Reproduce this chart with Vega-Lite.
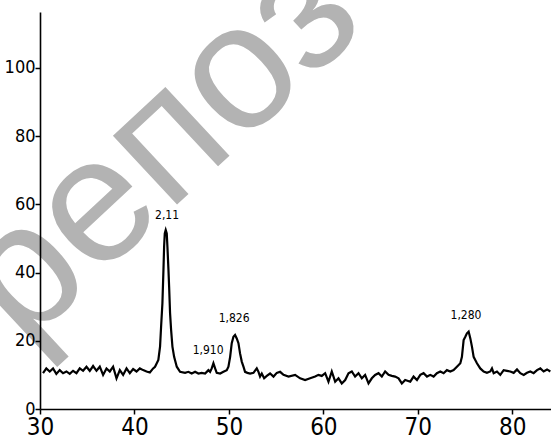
{
"$schema": "https://vega.github.io/schema/vega-lite/v6.json",
"width": 511,
"height": 397,
"autosize": {"type": "none"},
"padding": {"left": 40, "top": 12, "right": 0, "bottom": 39},
"background": "white",
"config": {"view": {"stroke": null}, "font": "DejaVu Sans Condensed, Liberation Sans"},
"datasets": {
"wm": [{"x": 42.7, "y": 76.5, "t": "репоз"}],
"labels": [
{"x": 43.45, "y": 56.9, "t": "2,11"},
{"x": 47.8, "y": 17.3, "t": "1,910"},
{"x": 50.55, "y": 26.7, "t": "1,826"},
{"x": 75.1, "y": 27.6, "t": "1,280"}
],
"curve": [
{"x":30.32,"y":10.5},{"x":30.67,"y":11.9},{"x":31.03,"y":11.0},{"x":31.38,"y":11.9},{"x":31.73,"y":10.3},{"x":32.09,"y":11.4},{"x":32.44,"y":10.5},{"x":32.80,"y":11.0},{"x":33.15,"y":10.3},{"x":33.50,"y":11.2},{"x":33.86,"y":10.5},{"x":34.21,"y":11.9},{"x":34.56,"y":11.2},{"x":34.92,"y":12.4},{"x":35.27,"y":11.2},{"x":35.62,"y":12.6},{"x":35.98,"y":11.2},{"x":36.33,"y":12.4},{"x":36.68,"y":10.0},{"x":37.04,"y":11.9},{"x":37.39,"y":11.0},{"x":37.74,"y":12.4},{"x":38.10,"y":9.0},{"x":38.45,"y":11.4},{"x":38.80,"y":10.0},{"x":39.16,"y":11.9},{"x":39.51,"y":10.5},{"x":39.86,"y":11.7},{"x":40.22,"y":11.0},{"x":40.57,"y":11.9},{"x":40.92,"y":11.4},{"x":41.28,"y":11.0},{"x":41.63,"y":10.7},{"x":41.98,"y":11.9},
{"x":42.18,"y":12.4},{"x":42.53,"y":14.4},{"x":42.71,"y":18.3},{"x":42.82,"y":24.1},{"x":42.96,"y":31.0},{"x":43.07,"y":40.8},{"x":43.14,"y":47.6},{"x":43.21,"y":51.5},{"x":43.31,"y":52.5},{"x":43.42,"y":51.5},{"x":43.49,"y":47.6},{"x":43.6,"y":40.8},{"x":43.67,"y":35.9},{"x":43.77,"y":28.1},{"x":43.88,"y":23.2},{"x":44.02,"y":18.3},{"x":44.2,"y":15.3},{"x":44.48,"y":12.4},{"x":44.83,"y":10.9},
{"x":45.36,"y":10.6},{"x":45.71,"y":10.9},{"x":46.06,"y":10.4},{"x":46.42,"y":10.9},{"x":46.77,"y":10.4},{"x":47.12,"y":10.6},{"x":47.48,"y":10.4},{"x":47.83,"y":11.4},{"x":48.01,"y":10.9},{"x":48.18,"y":11.9},{"x":48.36,"y":13.4},{"x":48.54,"y":11.9},{"x":48.71,"y":10.6},{"x":49.07,"y":10.4},{"x":49.42,"y":10.9},{"x":49.77,"y":11.4},{"x":49.95,"y":12.4},{"x":50.13,"y":15.3},{"x":50.30,"y":19.3},{"x":50.48,"y":21.2},{"x":50.65,"y":21.7},{"x":50.83,"y":20.7},{"x":51.01,"y":19.3},{"x":51.18,"y":16.3},{"x":51.36,"y":13.9},{"x":51.54,"y":12.4},{"x":51.71,"y":10.9},{"x":51.96,"y":10.6},{"x":52.24,"y":10.4},{"x":52.6,"y":10.6},{"x":52.95,"y":11.9},{"x":53.13,"y":10.9},{"x":53.30,"y":9.5},{"x":53.48,"y":10.4},{"x":53.73,"y":9.0},{"x":54.01,"y":9.7},{"x":54.36,"y":10.4},{"x":54.72,"y":9.5},{"x":55.07,"y":10.6},{"x":55.42,"y":10.9},{"x":55.78,"y":10.0},{"x":56.31,"y":9.5},
{"x":57.01,"y":10.0},{"x":57.54,"y":9.0},{"x":58.07,"y":8.5},{"x":58.6,"y":9.0},{"x":59.13,"y":9.5},{"x":59.48,"y":10.0},{"x":59.83,"y":9.7},{"x":60.19,"y":10.5},{"x":60.54,"y":8.0},{"x":60.89,"y":11.0},{"x":61.25,"y":8.0},{"x":61.6,"y":9.0},{"x":61.95,"y":7.5},{"x":62.31,"y":8.5},{"x":62.66,"y":10.5},{"x":63.01,"y":11.0},{"x":63.36,"y":9.5},{"x":63.72,"y":10.5},{"x":64.07,"y":9.0},{"x":64.42,"y":10.0},{"x":64.78,"y":7.5},{"x":65.13,"y":9.0},{"x":65.48,"y":10.0},{"x":65.84,"y":10.5},{"x":66.19,"y":9.5},{"x":66.54,"y":11.0},{"x":66.9,"y":10.0},{"x":67.25,"y":9.7},{"x":67.6,"y":9.5},{"x":67.96,"y":9.0},{"x":68.31,"y":7.5},{"x":68.66,"y":8.5},
{"x":69.2,"y":8.0},{"x":69.55,"y":9.5},{"x":69.91,"y":8.5},{"x":70.26,"y":10.0},{"x":70.61,"y":10.5},{"x":70.97,"y":9.5},{"x":71.32,"y":10.0},{"x":71.67,"y":9.5},{"x":72.02,"y":10.5},{"x":72.38,"y":11.0},{"x":72.73,"y":10.5},{"x":73.08,"y":11.4},{"x":73.44,"y":11.0},{"x":73.79,"y":11.4},{"x":74.14,"y":12.4},{"x":74.5,"y":13.4},{"x":74.67,"y":15.3},{"x":74.85,"y":20.2},{"x":75.03,"y":21.2},{"x":75.2,"y":22.2},{"x":75.38,"y":22.7},{"x":75.56,"y":20.7},{"x":75.73,"y":18.3},{"x":75.91,"y":15.3},{"x":76.08,"y":14.4},{"x":76.26,"y":13.4},{"x":76.61,"y":11.9},{"x":76.97,"y":11.0},{"x":77.32,"y":10.6},{"x":77.67,"y":11.0},{"x":77.85,"y":11.9},{"x":78.03,"y":10.5},{"x":78.38,"y":11.0},{"x":78.73,"y":10.0},{"x":79.09,"y":11.4},{"x":79.44,"y":11.2},{"x":79.79,"y":11.0},{"x":80.15,"y":10.6},{"x":80.5,"y":11.6},{"x":80.85,"y":10.5},{"x":81.21,"y":10.0},{"x":81.56,"y":10.6},{"x":81.91,"y":11.0},{"x":82.26,"y":10.5},{"x":82.62,"y":11.4},{"x":82.97,"y":11.9},{"x":83.32,"y":11.0},{"x":83.68,"y":11.6},{"x":84.03,"y":11.0}
]
},
"encoding": {
"x": {"field": "x", "type": "quantitative",
"scale": {"domain": [30, 84.1], "nice": false, "zero": false},
"axis": {"values": [30, 40, 50, 60, 70, 80], "title": null, "grid": false, "zindex": 1, "tickSize": 5, "tickColor": "black", "tickWidth": 1.5, "domainColor": "black", "domainWidth": 1.6, "labelFontSize": 24, "labelColor": "black", "labelPadding": 1, "labelFlush": false, "labelFont": "DejaVu Sans Condensed, Liberation Sans"}},
"y": {"field": "y", "type": "quantitative",
"scale": {"domain": [0, 116.4], "nice": false},
"axis": {"values": [0, 20, 40, 60, 80, 100], "title": null, "grid": false, "zindex": 1, "tickSize": 5, "tickColor": "black", "tickWidth": 1.5, "domainColor": "black", "domainWidth": 1.6, "labelFontSize": 18, "labelColor": "black", "labelPadding": 0, "labelFont": "DejaVu Sans Condensed, Liberation Sans"}}
},
"layer": [
{"data": {"name": "wm"},
"mark": {"type": "text", "font": "Liberation Sans", "fontSize": 178, "angle": -43, "color": "#b3b3b3", "align": "center", "baseline": "middle"},
"encoding": {"text": {"field": "t"}}},
{"data": {"name": "curve"},
"mark": {"type": "line", "color": "black", "strokeWidth": 2.2, "interpolate": "linear"}},
{"data": {"name": "labels"},
"mark": {"type": "text", "fontSize": 12, "color": "black", "align": "center", "baseline": "middle", "font": "DejaVu Sans Condensed, Liberation Sans"},
"encoding": {"text": {"field": "t"}}}
]
}
